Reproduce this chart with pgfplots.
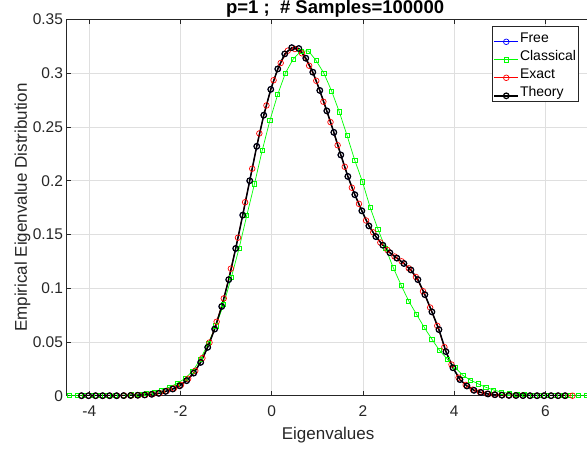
\documentclass[border=0pt]{standalone}
\usepackage{fontspec}
\setmainfont{Liberation Sans}
\usepackage{pgfplots}
\pgfplotsset{compat=1.18}
\definecolor{axgray}{RGB}{38,38,38}
\definecolor{gridgray}{RGB}{223,223,223}
\definecolor{mgreen}{RGB}{0,255,0}
\pgfplotstableread{
x y
-4.170 0
-4.016 0
-3.863 0
-3.709 0
-3.556 0
-3.402 0
-3.248 0.0001
-3.095 0.0002
-2.941 0.0004
-2.788 0.0007
-2.634 0.0013
-2.480 0.0022
-2.327 0.0040
-2.173 0.0062
-2.020 0.0092
-1.866 0.0140
-1.712 0.0210
-1.559 0.0310
-1.405 0.0450
-1.252 0.0620
-1.098 0.0830
-0.944 0.1080
-0.791 0.1370
-0.637 0.1680
-0.484 0.2000
-0.330 0.2320
-0.176 0.2610
-0.023 0.2850
0.131 0.3040
0.284 0.3180
0.438 0.3238
0.592 0.3230
0.745 0.3140
0.899 0.3010
1.052 0.2840
1.206 0.2650
1.360 0.2450
1.513 0.2240
1.667 0.2040
1.820 0.1870
1.974 0.1720
2.128 0.1580
2.281 0.1480
2.435 0.1400
2.588 0.1330
2.742 0.1280
2.896 0.1230
3.049 0.1170
3.203 0.1080
3.356 0.0940
3.510 0.0780
3.664 0.0615
3.817 0.0410
3.971 0.0260
4.124 0.0150
4.278 0.0090
4.432 0.0050
4.585 0.0030
4.739 0.0016
4.892 0.0009
5.046 0.0005
5.200 0.0003
5.353 0.0002
5.507 0.0001
5.660 0
5.814 0
5.968 0
6.121 0
6.275 0
6.428 0
}\theory
\pgfplotstableread{
x y
-4.173 0
-4.017 0
-3.861 0
-3.705 0
-3.549 0
-3.393 0
-3.237 0.0001
-3.081 0.0002
-2.925 0.0004
-2.769 0.0008
-2.613 0.0014
-2.457 0.0023
-2.301 0.0045
-2.145 0.0068
-1.989 0.0100
-1.833 0.0158
-1.677 0.0232
-1.521 0.0350
-1.365 0.0495
-1.209 0.0688
-1.053 0.0905
-0.897 0.1182
-0.741 0.1470
-0.585 0.1800
-0.429 0.2112
-0.273 0.2440
-0.117 0.2700
0.039 0.2935
0.195 0.3095
0.351 0.3210
0.507 0.3225
0.663 0.3185
0.819 0.3070
0.975 0.2930
1.131 0.2735
1.287 0.2545
1.443 0.2330
1.599 0.2130
1.755 0.1935
1.911 0.1785
2.067 0.1630
2.223 0.1520
2.379 0.1425
2.535 0.1355
2.691 0.1295
2.847 0.1250
3.003 0.1185
3.159 0.1105
3.315 0.0972
3.471 0.0820
3.627 0.0650
3.783 0.0452
3.939 0.0290
4.095 0.0168
4.251 0.0100
4.407 0.0056
4.563 0.0033
4.719 0.0018
4.875 0.0010
5.031 0.0005
5.187 0.0003
5.343 0.0002
5.499 0.0001
5.655 0
5.811 0
5.967 0
6.123 0
6.279 0
6.435 0
6.591 0
}\exact
\pgfplotstableread{
x y
-4.438 0
-4.269 0
-4.100 0
-3.931 0
-3.762 0.0001
-3.593 0.0002
-3.423 0.0003
-3.254 0.0005
-3.085 0.0008
-2.916 0.0013
-2.747 0.0021
-2.578 0.0034
-2.409 0.0053
-2.240 0.0080
-2.071 0.0115
-1.902 0.0160
-1.733 0.0230
-1.563 0.0340
-1.394 0.0487
-1.225 0.0650
-1.056 0.0850
-0.887 0.1100
-0.718 0.1370
-0.549 0.1675
-0.380 0.1970
-0.211 0.2280
-0.042 0.2560
0.128 0.2800
0.297 0.3000
0.466 0.3130
0.635 0.3205
0.804 0.3207
0.973 0.3117
1.142 0.3000
1.311 0.2835
1.480 0.2640
1.650 0.2420
1.819 0.2190
1.988 0.1990
2.157 0.1750
2.326 0.1550
2.495 0.1370
2.664 0.1190
2.833 0.1030
3.002 0.0880
3.172 0.0757
3.341 0.0636
3.510 0.0525
3.679 0.0420
3.848 0.0340
4.017 0.0264
4.186 0.0190
4.355 0.0145
4.524 0.0110
4.693 0.0078
4.862 0.0053
5.032 0.0034
5.201 0.0022
5.370 0.0015
5.539 0.0010
5.708 0.0006
5.877 0.0004
6.046 0.0003
6.215 0.0002
6.384 0.0001
6.553 0.0001
6.722 0
6.891 0
7.060 0
}\classical
\begin{document}
\begin{tikzpicture}
\begin{axis}[
  at={(0pt,0pt)}, anchor=south west,
  scale only axis,
  width=529.2pt, height=376.2pt,
  xmin=-4.5, xmax=7.1, ymin=0, ymax=0.35,
  xtick={-4,-2,0,2,4,6},
  xticklabels={-4,-2,0,2,4,6},
  ytick={0,0.05,0.1,0.15,0.2,0.25,0.3,0.35},
  yticklabels={0,0.05,0.1,0.15,0.2,0.25,0.3,0.35},
  xtick pos=both, ytick pos=left,
  tick align=inside,
  major tick length=5pt,
  every tick/.style={axgray, line width=0.6pt},
  axis line style={axgray, line width=0.6pt},
  grid=major,
  major grid style={gridgray, line width=0.6pt},
  tick label style={font=\fontsize{15.5}{18}\selectfont, text=axgray},
  xticklabel style={yshift=-6.2pt},
  xlabel={Eigenvalues},
  ylabel={Empirical Eigenvalue Distribution},
  xlabel style={font=\fontsize{17}{20}\selectfont, text=axgray, at={(axis description cs:0.5,0)}, anchor=base, yshift=-43.6pt, xshift=-3pt},
  ylabel style={font=\fontsize{17}{20}\selectfont, text=axgray, at={(axis description cs:0,0.5)}, anchor=base, yshift=39.5pt},
  title={p=1 ;~~\# Samples=100000},
  title style={font=\bfseries\fontsize{18.5}{22}\selectfont, at={(axis description cs:0.5,1)}, anchor=base, yshift=-0.5pt, xshift=4pt},
  legend style={at={(axis description cs:0.8035,0.9827)}, anchor=north west,
    font=\fontsize{14}{16}\selectfont, draw=axgray, line width=0.6pt, fill=white,
    inner sep=1.5pt, row sep=0pt,
    nodes={inner sep=1pt, text height=14pt, text depth=2pt},
    cells={anchor=west}},
  legend image code/.code={\draw[mark repeat=2,mark phase=2,#1] plot coordinates {(0pt,-5pt) (12pt,-5pt) (24pt,-5pt)};},
]
\addplot[blue, line width=0.7pt, mark=o, mark size=2.8pt] table {\theory};
\addlegendentry{Free}
\addplot[mgreen, line width=0.7pt, mark=square, mark size=2.1pt] table {\classical};
\addlegendentry{Classical}
\addplot[red, line width=0.7pt, mark=o, mark size=2.8pt] table {\exact};
\addlegendentry{Exact}
\addplot[black, line width=1.5pt, mark=o, mark size=2.8pt, mark options={line width=1.2pt}] table {\theory};
\addlegendentry{Theory}
\end{axis}
\pgfresetboundingbox
\path[use as bounding box] (-66.5pt,-53.3pt) rectangle (520.5pt,395.7pt);
\end{tikzpicture}
\end{document}
